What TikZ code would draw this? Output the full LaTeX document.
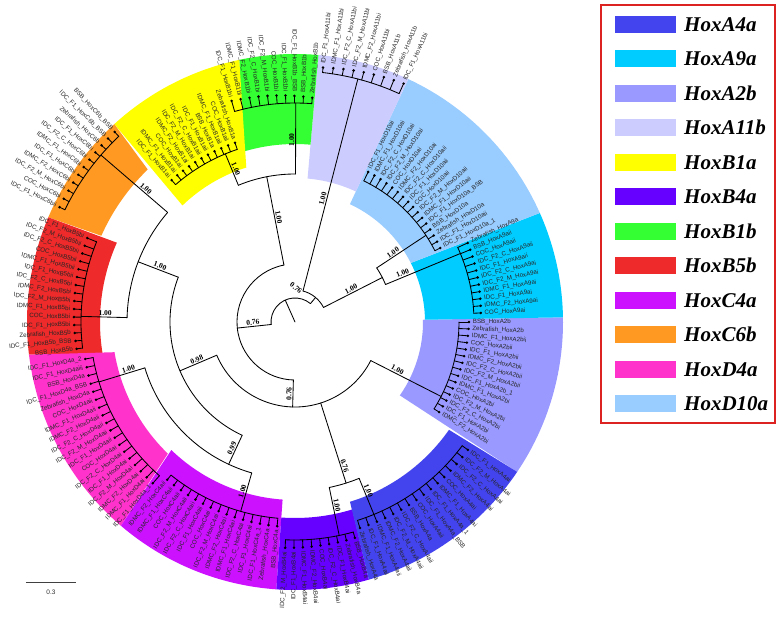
\documentclass[tikz,border=0pt]{standalone}
\usepackage{fontspec}
\setmainfont{Liberation Serif}
\setsansfont{Liberation Sans}
\definecolor{cA4a}{HTML}{4444EE}
\definecolor{cA9a}{HTML}{00CCFF}
\definecolor{cA2b}{HTML}{9999FF}
\definecolor{cA11b}{HTML}{CCCCFF}
\definecolor{cB1a}{HTML}{FFFF00}
\definecolor{cB4a}{HTML}{6600FF}
\definecolor{cB1b}{HTML}{33FF33}
\definecolor{cB5b}{HTML}{EE2A2A}
\definecolor{cC4a}{HTML}{CC11FF}
\definecolor{cC6b}{HTML}{FF9922}
\definecolor{cD4a}{HTML}{FF33CC}
\definecolor{cD10a}{HTML}{99CCFF}
\definecolor{legred}{HTML}{DD2222}
\tikzset{
  br/.style={line width=0.85pt, black, line cap=round, line join=round},
  leaf/.style={font=\sffamily\fontsize{6.2}{7}\selectfont, inner sep=0.2pt, text=black!85},
  bsl/.style={font=\rmfamily\bfseries\fontsize{7.5}{8}\selectfont, inner sep=1.2pt},
  legtext/.style={font=\rmfamily\bfseries\itshape\fontsize{21}{24}\selectfont, anchor=west, inner sep=0pt},
  swatch/.style={minimum width=61pt, minimum height=17pt, inner sep=0pt, draw=none}
}
% band: color, start-inner, start-outer, end-outer, end-inner, inner radius
\newcommand\hoxband[6]{\fill[#1] (#2:#6pt) -- (#3:268pt) arc[start angle=#3, end angle=#4, radius=268pt] -- (#5:#6pt) arc[start angle=#5, end angle=#2, radius=#6pt] -- cycle;}
% stem: name, angle, r1, r2
\newcommand\brstem[4]{\coordinate (#1-in) at (#2:#3pt); \coordinate (#1) at (#2:#4pt); \draw[br] (#1-in) -- (#1);}
\newcommand\brarc[3]{\draw[br] (#1:#3pt) arc[start angle=#1, end angle=#2, radius=#3pt];}
% clade: name, angle first, angle last, n, node r, tip r first, tip r last, labels
\newcommand\hoxclade[8]{%
  \draw[br] (#2:#5pt) arc[start angle=#2, end angle=#3, radius=#5pt];
  \foreach \lab [count=\i] in {#8}{%
    \pgfmathsetmacro\lth{(#2)+(\i-1)*((#3)-(#2))/(#4-1)}%
    \pgfmathsetmacro\lrt{(#6)+(\i-1)*((#7)-(#6))/(#4-1)}%
    \pgfmathsetmacro\lrl{\lrt+3.5}%
    \pgfmathtruncatemacro\lside{cos(\lth)>=0}%
    \draw[br] (\lth:#5pt) -- (\lth:\lrt pt);
    \fill (\lth:\lrt pt) circle[radius=1.4pt];
    \ifnum\lside=1
      \node[leaf, rotate=\lth, anchor=west] (#1-\i) at (\lth:\lrl pt) {\lab};
    \else
      \pgfmathsetmacro\lrot{\lth+180}%
      \node[leaf, rotate=\lrot, anchor=east] (#1-\i) at (\lth:\lrl pt) {\lab};
    \fi
  }}
% bootstrap value: name, angle, r, text
\newcommand\bsval[4]{%
  \pgfmathtruncatemacro\bside{cos(#2)>=0}%
  \ifnum\bside=1
    \node[bsl, rotate=#2, anchor=south] (#1) at (#2:#3pt) {#4};
  \else
    \pgfmathsetmacro\brot{#2+180}%
    \node[bsl, rotate=\brot, anchor=south] (#1) at (#2:#3pt) {#4};
  \fi}
\begin{document}
\begin{tikzpicture}[x=1pt,y=1pt]
\useasboundingbox (-295,-295) rectangle (483,322);
\fill[white] (-295,-295) rectangle (483,322);
% coloured bands
\hoxband{cA2b}{-35}{-34}{1}{1}{128}
\hoxband{cA9a}{1}{1}{24}{27}{130}
\hoxband{cD10a}{27}{24}{65}{65}{130}
\hoxband{cA11b}{65}{65}{85}{85}{144}
\hoxband{cB1b}{85}{85}{102}{107.5}{178}
\hoxband{cB1a}{107.5}{102}{132.4}{134}{162}
\hoxband{cC6b}{134}{132.4}{157}{156}{212}
\hoxband{cB5b}{156}{157}{187}{189.5}{195}
\hoxband{cD4a}{189.5}{187}{229.5}{226}{183}
\hoxband{cC4a}{226}{229.5}{266}{266}{178}
\hoxband{cB4a}{266}{266}{286}{287}{196}
\hoxband{cA4a}{287}{286}{326}{325}{188}
% backbone
\coordinate (C) at (0,0);
\brstem{root}{114}{0}{24}
\brarc{50}{186}{24}
\brstem{N1}{50}{24}{32}
\brarc{27}{75.5}{32}
\brstem{A11b-stem}{75.5}{32}{251}
\brstem{N2}{27}{32}{98}
\brarc{22.5}{33.5}{98}
\brstem{D10a-stem}{33.5}{98}{157}
\brstem{A9a-stem}{22.5}{98}{179}
\brstem{M}{186}{24}{58}
\brarc{101}{268.4}{58}
\brstem{X}{101}{58}{148}
\brarc{89.8}{112.5}{148}
\brstem{B1b-stem}{89.8}{148}{219}
\brstem{B1a-stem}{112.5}{148}{182}
\brstem{P}{268.4}{58}{85}
\brarc{203}{333}{85}
\brstem{A2b-stem}{333}{85}{164}
\brstem{BA}{287.6}{85}{169}
\brarc{281.7}{292.3}{169}
\brstem{B4a-stem}{281.7}{169}{218}
\brstem{A4a-stem}{292.3}{169}{208}
\brstem{Q}{203}{85}{125}
\brarc{159}{245}{125}
\brstem{S}{159}{125}{168}
\brarc{139.3}{178.5}{168}
\brstem{C6b-stem}{139.3}{168}{256}
\brstem{B5b-stem}{178.5}{168}{214}
\brstem{T}{245}{125}{157}
\brarc{197}{254}{157}
\brstem{D4a-stem}{197}{157}{205}
\brstem{C4a-stem}{254}{157}{197}
% clades
\hoxclade{A11b}{83.7}{65.5}{9}{251}{256}{262}{IDC\_F1\_HoxA11bi, IDMC\_F1\_HoxA11bi, IDC\_F2\_C\_HoxA11bi, IDC\_F2\_M\_HoxA11bi, IDMC\_F2\_HoxA11bi, COC\_HoxA11bi, BSB\_HoxA11b, Zebrafish\_HoxA11b, IDC\_F1\_HoxA11bi}
\hoxclade{D10a}{64}{27}{16}{157}{167}{163}{IDC\_F1\_HoxD10ai, IDMC\_F1\_HoxD10ai, IDC\_F2\_C\_HoxD10ai, IDC\_F2\_M\_HoxD10ai, COC\_HoxD10ai, IDMC\_F2\_HoxD10ai, IDC\_F2\_C\_HoxD10aii, IDC\_F1\_HoxD10aii, COC\_HoxD10aii, IDC\_F2\_M\_HoxD10aii, IDMC\_F1\_HoxD10aii, IDC\_F1\_HoxD10a\_BSB, BSB\_HoxD10a, Zebrafish\_HoxD10a, IDC\_F1\_HoxD10aii, IDC\_F1\_HoxD10a\_1}
\hoxclade{A9a}{24.6}{2.8}{11}{179}{190}{186}{Zebrafish\_HoxA9a, BSB\_HoxA9aii, COC\_HoxA9aii, IDC\_F2\_C\_HoxA9aii, IDC\_F1\_HoxA9aii, IDC\_F2\_C\_HoxA9ai, IDC\_F2\_M\_HoxA9ai, IDMC\_F1\_HoxA9ai, IDC\_F1\_HoxA9ai, IDMC\_F2\_HoxA9ai, COC\_HoxA9ai}
\hoxclade{A2b}{0}{-32}{15}{164}{174}{170}{BSB\_HoxA2b, Zebrafish\_HoxA2b, IDMC\_F1\_HoxA2bii, COC\_HoxA2bii, IDC\_F1\_HoxA2bii, IDMC\_F2\_HoxA2bii, IDC\_F2\_C\_HoxA2bii, IDC\_F2\_M\_HoxA2bii, IDC\_F1\_HoxA2b\_1, IDMC\_F1\_HoxA2bi, COC\_HoxA2bi, IDC\_F2\_M\_HoxA2bi, IDC\_F2\_C\_HoxA2bi, IDC\_F1\_HoxA2bi, IDMC\_F2\_HoxA2bi}
\hoxclade{A4a}{-36.5}{-72.5}{16}{208}{215}{216}{IDC\_F1\_HoxA4ai, IDC\_F2\_M\_HoxA4ai, IDC\_F2\_C\_HoxA4ai, IDMC\_F2\_HoxA4ai, COC\_HoxA4ai, IDMC\_F1\_HoxA4ai, IDC\_F1\_HoxA4a\_1, IDC\_F1\_HoxA4a\_BSB, COC\_HoxA4aii, BSB\_HoxA4a, IDC\_F2\_C\_HoxA4aii, IDC\_F2\_M\_HoxA4aii, IDMC\_F2\_HoxA4aii, IDMC\_F1\_HoxA4aii, IDC\_F1\_HoxA4aii, Zebrafish\_HoxA4a}
\hoxclade{B4a}{-92.5}{-74.5}{9}{218}{226}{224}{IDC\_F2\_M\_HoxB4ai, IDC\_F1\_HoxB4ai, IDMC\_F1\_HoxB4ai, IDMC\_F2\_HoxB4ai, COC\_HoxB4ai, IDC\_F2\_C\_HoxB4ai, IDC\_F1\_HoxB4ai, Zebrafish\_HoxB4a, BSB\_HoxB4a}
\hoxclade{C4a}{231}{265}{15}{197}{203}{205}{IDMC\_F2\_HoxC4aii, IDMC\_F1\_HoxC4aii, COC\_HoxC4aii, IDC\_F2\_M\_HoxC4aii, IDC\_F2\_C\_HoxC4aii, IDC\_F1\_HoxC4aii, COC\_HoxC4ai, IDC\_F2\_M\_HoxC4ai, IDMC\_F2\_HoxC4ai, IDMC\_F1\_HoxC4ai, IDC\_F2\_C\_HoxC4ai, IDC\_F1\_HoxC4ai, IDC\_F1\_HoxC4a\_1, Zebrafish\_HoxC4a, BSB\_HoxC4a}
\hoxclade{D4a}{190}{228.6}{18}{205}{213}{215}{IDC\_F1\_HoxD4a\_2, IDC\_F1\_HoxD4aiii, BSB\_HoxD4a, IDC\_F1\_HoxD4a\_BSB, Zebrafish\_HoxD4a, COC\_HoxD4aii, IDMC\_F1\_HoxD4aii, IDMC\_F2\_HoxD4aii, IDC\_F2\_C\_HoxD4aii, IDC\_F2\_M\_HoxD4aii, IDC\_F1\_HoxD4aii, COC\_HoxD4ai, IDC\_F2\_C\_HoxD4ai, IDC\_F1\_HoxD4ai, IDC\_F2\_M\_HoxD4ai, IDMC\_F2\_HoxD4ai, IDMC\_F1\_HoxD4ai, IDC\_F1\_HoxD4a\_1}
\hoxclade{B5b}{158}{187}{15}{214}{224}{220}{IDC\_F1\_HoxB5bi, IDC\_F2\_M\_HoxB5bii, IDC\_F2\_C\_HoxB5bii, COC\_HoxB5bii, IDMC\_F1\_HoxB5bii, IDC\_F1\_HoxB5bii, IDC\_F2\_C\_HoxB5bi, IDMC\_F2\_HoxB5bi, IDC\_F2\_M\_HoxB5bi, IDMC\_F1\_HoxB5bi, COC\_HoxB5bi, IDC\_F1\_HoxB5bi, Zebrafish\_HoxB5b, IDC\_F1\_HoxB5b\_BSB, BSB\_HoxB5b}
\hoxclade{C6b}{133.5}{154}{11}{256}{262}{262}{BSB\_HoxC6b\_BSB, IDC\_F1\_HoxC6b\_BSB, Zebrafish\_HoxC6b, IDC\_F1\_HoxC6bi, IDC\_F2\_C\_HoxC6bi, IDMC\_F1\_HoxC6bi, IDC\_F1\_HoxC6bi, IDMC\_F2\_HoxC6bi, IDC\_F2\_M\_HoxC6bi, COC\_HoxC6bi, IDC\_F1\_HoxC6bii}
\hoxclade{B1a}{108.5}{131}{11}{182}{189}{188}{Zebrafish\_HoxB1a, COC\_HoxB1aii, IDMC\_F1\_HoxB1aii, BSB\_HoxB1a, IDC\_F1\_HoxB1aii, IDC\_F2\_C\_HoxB1aii, IDC\_F2\_M\_HoxB1ai, IDMC\_F2\_HoxB1ai, COC\_HoxB1ai, IDMC\_F1\_HoxB1ai, IDC\_F1\_HoxB1ai}
\hoxclade{B1b}{106}{85.6}{10}{219}{230}{225}{IDC\_F1\_HoxB1bi, IDMC\_F1\_HoxB1bi, IDMC\_F2\_HoxB1bi, IDC\_F2\_C\_HoxB1bi, IDC\_F2\_M\_HoxB1bi, COC\_HoxB1bi, IDC\_F1\_HoxB1bi, IDC\_F1\_HoxB1b\_BSB, BSB\_HoxB1b, Zebrafish\_HoxB1b}
% support values
\node[bsl, rotate=-38] (bsroot) at (1,34) {0.76};
\bsval{bsM}{186}{42}{0.76}
\bsval{bsN2}{27}{65}{1.00}
\bsval{bsA11b}{75.5}{126}{1.00}
\bsval{bsD10a}{33.5}{120}{1.00}
\bsval{bsA9a}{22.5}{118}{1.00}
\bsval{bsA2b}{333}{113}{1.00}
\bsval{bsBA}{287.6}{152}{0.76}
\bsval{bsB4a}{281.7}{188}{1.00}
\bsval{bsA4a}{292.3}{184}{1.00}
\bsval{bsP}{268.4}{72}{0.76}
\bsval{bsQ}{203}{105}{0.98}
\bsval{bsT}{245}{141}{0.99}
\bsval{bsC4a}{254}{177}{1.00}
\bsval{bsD4a}{197}{173}{1.00}
\bsval{bsS}{159}{146}{1.00}
\bsval{bsB5b}{178.5}{190}{1.00}
\bsval{bsC6b}{139.3}{200}{1.00}
\bsval{bsX}{101}{106}{1.00}
\bsval{bsB1a}{112.5}{164}{1.00}
\bsval{bsB1b}{89.8}{182}{1.00}
% scale bar
\coordinate (sb1) at (-269,-260);
\coordinate (sb2) at (-219,-260);
\draw[line width=0.7pt, black!75] (sb1) -- (sb2);
\node[font=\sffamily\fontsize{6.5}{7}\selectfont, text=black!80] (sbl) at (-244,-270) {0.3};
% legend
\node[draw=legred, line width=1.5pt, minimum width=174pt, minimum height=418pt, inner sep=0pt] (legend) at (393,108) {};
\foreach \nm/\col [count=\k from 0] in {HoxA4a/cA4a, HoxA9a/cA9a, HoxA2b/cA2b, HoxA11b/cA11b, HoxB1a/cB1a, HoxB4a/cB4a, HoxB1b/cB1b, HoxB5b/cB5b, HoxC4a/cC4a, HoxC6b/cC6b, HoxD4a/cD4a, HoxD10a/cD10a}{
  \pgfmathsetmacro\yy{297.7-34.5*\k}
  \node[swatch, fill=\col] (sw\k) at (350.5,\yy) {};
  \node[legtext] (lt\k) at (389,\yy) {\nm};
}
\end{tikzpicture}
\end{document}
